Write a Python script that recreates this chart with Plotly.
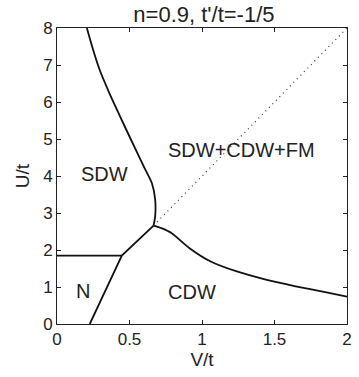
import plotly.graph_objects as go

# Phase boundaries (V/t, U/t)
sdw_v = [0.206, 0.249, 0.294, 0.361, 0.429, 0.508, 0.598, 0.654, 0.677, 0.677, 0.666]
sdw_u = [8.0, 7.41, 6.87, 6.24, 5.66, 5.0, 4.26, 3.81, 3.36, 2.91, 2.66]

cdw_v = [0.666, 0.72, 0.789, 0.914, 1.06, 1.24, 1.44, 1.645, 1.85, 2.0]
cdw_u = [2.66, 2.59, 2.46, 2.05, 1.69, 1.42, 1.20, 1.02, 0.86, 0.74]

n_sdw_v = [0.0, 0.447]
n_sdw_u = [1.85, 1.85]

n_cdw_v = [0.226, 0.447, 0.666]
n_cdw_u = [0.0, 1.85, 2.66]

dot_v = [0.666, 2.0]
dot_u = [2.66, 8.0]

labels = ["SDW", "SDW+CDW+FM", "N", "CDW"]
label_v = [0.328, 1.27, 0.177, 0.93]
label_u = [4.06, 4.70, 0.88, 0.87]

x_ticks = [0, 0.5, 1, 1.5, 2]
x_tick_text = ["0", "0.5", "1", "1.5", "2"]
y_ticks = [0, 1, 2, 3, 4, 5, 6, 7, 8]

FONT = "Liberation Sans, Arial, sans-serif"
TXT = "#222222"
line_style = dict(color="#111111", width=1.8)

fig = go.Figure()
for xv, yv, shp in [(sdw_v, sdw_u, "spline"), (cdw_v, cdw_u, "spline"),
                    (n_sdw_v, n_sdw_u, "linear"), (n_cdw_v, n_cdw_u, "linear")]:
    fig.add_trace(go.Scatter(x=xv, y=yv, mode="lines",
                             line=dict(shape=shp, smoothing=0.7, **line_style),
                             showlegend=False, hoverinfo="skip"))
fig.add_trace(go.Scatter(x=dot_v, y=dot_u, mode="lines",
                         line=dict(color="#333333", width=1.2, dash="1px,4px"),
                         showlegend=False, hoverinfo="skip"))

for t, xv, yv in zip(labels, label_v, label_u):
    fig.add_annotation(x=xv, y=yv, text=t, showarrow=False,
                       font=dict(family=FONT, size=20, color=TXT))

axis_common = dict(showline=True, linecolor="#222222", linewidth=1, mirror="ticks",
                   ticks="inside", ticklen=4, tickcolor="#222222", showgrid=False,
                   zeroline=False, tickfont=dict(family=FONT, size=17, color=TXT))

fig.update_layout(
    width=359, height=377,
    margin=dict(l=57, r=7, t=28, b=53),
    paper_bgcolor="white", plot_bgcolor="white",
    title=dict(text="n=0.9, t'/t=-1/5", x=0.568, xanchor="center", y=0.963, yanchor="middle",
               font=dict(family=FONT, size=22, color=TXT)),
    xaxis=dict(range=[0, 2], tickvals=x_ticks, ticktext=x_tick_text,
               title=dict(text="V/t", font=dict(family=FONT, size=19, color=TXT), standoff=2),
               **axis_common),
    yaxis=dict(range=[0, 8], tickvals=y_ticks,
               title=dict(text="U/t", font=dict(family=FONT, size=19, color=TXT), standoff=8),
               **axis_common),
)

fig.write_html("out.html")
